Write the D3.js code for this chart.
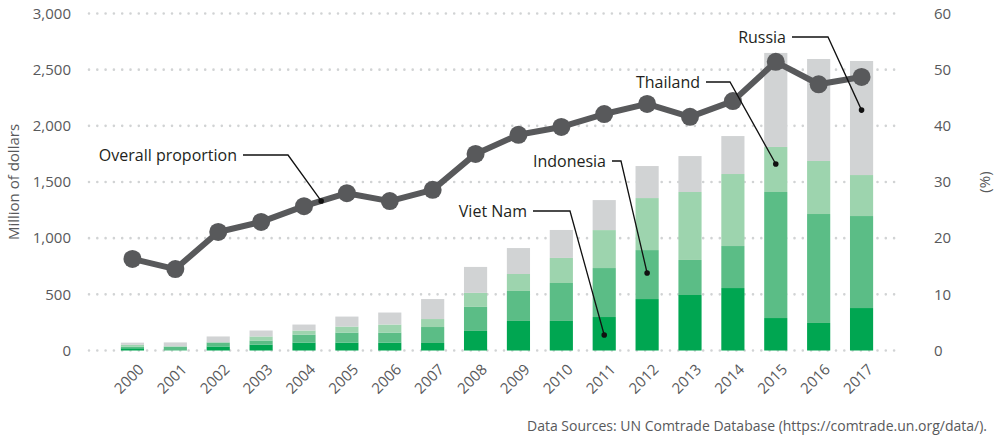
<!DOCTYPE html>
<html>
<head>
<meta charset="utf-8">
<script src="https://cdn.jsdelivr.net/npm/d3@7"></script>
<style>
  body { margin: 0; background: #fff; }
  svg { font-family: "Open Sans", sans-serif; }
</style>
</head>
<body>
<script>
var years = ["2000","2001","2002","2003","2004","2005","2006","2007","2008","2009",
             "2010","2011","2012","2013","2014","2015","2016","2017"];

// million of dollars, stacked bottom to top
var vietNam   = [20, 2, 36, 53, 71, 71, 71, 67, 174, 263, 263, 298, 458, 494, 556, 289, 245, 378];
var indonesia = [15, 33, 36, 36, 71, 89, 89, 142, 214, 267, 338, 436, 436, 312, 374, 1122, 970, 819];
var thailand  = [15, 2, 0, 36, 36, 53, 71, 71, 125, 151, 223, 338, 463, 605, 641, 401, 472, 365];
var russia    = [20, 35, 53, 53, 53, 89, 107, 178, 231, 231, 249, 267, 285, 320, 338, 837, 908, 1015];

// overall proportion (%)
var proportion = [16.3, 14.5, 21.1, 22.9, 25.7, 28.0, 26.6, 28.6, 35.0, 38.4,
                  39.8, 42.1, 43.9, 41.6, 44.4, 51.4, 47.4, 48.7];

var leftTicks = [0, 500, 1000, 1500, 2000, 2500, 3000];
var rightTicks = [0, 10, 20, 30, 40, 50, 60];

var seriesKeys = ["Viet Nam", "Indonesia", "Thailand", "Russia"];
var seriesColors = ["#00a651", "#5bbd86", "#9dd4ae", "#d1d3d4"];

var width = 1000, height = 437;
var textColor = "#58595b";

var svg = d3.select("body").append("svg")
    .attr("width", width)
    .attr("height", height);

var y = d3.scaleLinear().domain([0, 3000]).range([350.5, 13.5]);
var y2 = d3.scaleLinear().domain([0, 60]).range([350.5, 13.5]);
var x = d3.scaleBand().domain(years).range([111, 883])
    .paddingInner(0.46).paddingOuter(0.23);
var bw = x.bandwidth();
function cx(yr) { return x(yr) + bw / 2; }

// dotted grid
svg.append("g").selectAll("line")
    .data(leftTicks)
    .enter().append("line")
    .attr("x1", 89).attr("x2", 897)
    .attr("y1", function (d) { return y(d); })
    .attr("y2", function (d) { return y(d); })
    .attr("stroke", "#d1d3d4")
    .attr("stroke-width", 2.6)
    .attr("stroke-linecap", "round")
    .attr("stroke-dasharray", "0,8.3");

// left axis
var leftAxis = svg.append("g")
    .attr("transform", "translate(71,0)")
    .call(d3.axisLeft(y).tickValues(leftTicks).tickSize(0).tickPadding(0)
        .tickFormat(d3.format(",")));
leftAxis.select(".domain").remove();
leftAxis.selectAll("text")
    .attr("fill", textColor)
    .attr("font-size", "15px")
    .attr("font-family", "Open Sans");

// right axis
var rightAxis = svg.append("g")
    .attr("transform", "translate(934,0)")
    .call(d3.axisRight(y2).tickValues(rightTicks).tickSize(0).tickPadding(0));
rightAxis.select(".domain").remove();
rightAxis.selectAll("text")
    .attr("fill", textColor)
    .attr("font-size", "15px")
    .attr("font-family", "Open Sans");

svg.append("text")
    .attr("transform", "translate(19,182) rotate(-90)")
    .attr("text-anchor", "middle")
    .attr("fill", textColor)
    .attr("font-size", "15px")
    .text("Million of dollars");

svg.append("text")
    .attr("transform", "translate(990,182) rotate(-90)")
    .attr("text-anchor", "middle")
    .attr("fill", textColor)
    .attr("font-size", "15px")
    .text("(%)");

// stacked bars
var table = years.map(function (yr, i) {
    return { year: yr, "Viet Nam": vietNam[i], "Indonesia": indonesia[i],
             "Thailand": thailand[i], "Russia": russia[i] };
});
var stacked = d3.stack().keys(seriesKeys)(table);

svg.append("g").selectAll("g")
    .data(stacked)
    .enter().append("g")
    .attr("fill", function (d, i) { return seriesColors[i]; })
    .selectAll("rect")
    .data(function (d) { return d; })
    .enter().append("rect")
    .attr("x", function (d) { return x(d.data.year); })
    .attr("y", function (d) { return y(d[1]); })
    .attr("width", bw)
    .attr("height", function (d) { return y(d[0]) - y(d[1]); });

// x axis labels
svg.append("g").selectAll("text")
    .data(years)
    .enter().append("text")
    .attr("transform", function (d) {
        return "translate(" + (cx(d) + 5) + ",363) rotate(-45)";
    })
    .attr("text-anchor", "end")
    .attr("dy", "0.7em")
    .attr("fill", textColor)
    .attr("font-size", "15px")
    .text(function (d) { return d; });

// proportion line
var line = d3.line()
    .x(function (d, i) { return cx(years[i]); })
    .y(function (d) { return y2(d); });

svg.append("path")
    .datum(proportion)
    .attr("d", line)
    .attr("fill", "none")
    .attr("stroke", "#58595b")
    .attr("stroke-width", 6)
    .attr("stroke-linejoin", "round");

svg.append("g").selectAll("circle")
    .data(proportion)
    .enter().append("circle")
    .attr("cx", function (d, i) { return cx(years[i]); })
    .attr("cy", function (d) { return y2(d); })
    .attr("r", 9)
    .attr("fill", "#58595b");

// annotations
var t = 0.4;
var overallX = cx("2004") + t * (cx("2005") - cx("2004"));
var overallY = y2(proportion[4] + t * (proportion[5] - proportion[4]));

var notes = [
    { text: "Overall proportion", tx: 237, ty: 155, ex: 288, px: overallX, py: overallY },
    { text: "Viet Nam", tx: 527, ty: 211, ex: 570, px: cx("2011"), py: y(138) },
    { text: "Indonesia", tx: 606, ty: 161, ex: 621, px: cx("2012"), py: y(690) },
    { text: "Thailand", tx: 700, ty: 82, ex: 730, px: cx("2015"), py: y(1660) },
    { text: "Russia", tx: 786, ty: 37, ex: 828, px: cx("2017"), py: y(2140) }
];

var ann = svg.append("g").selectAll("g")
    .data(notes)
    .enter().append("g");

ann.append("text")
    .attr("x", function (d) { return d.tx; })
    .attr("y", function (d) { return d.ty; })
    .attr("dy", "0.35em")
    .attr("text-anchor", "end")
    .attr("fill", "#231f20")
    .attr("font-size", "16px")
    .text(function (d) { return d.text; });

ann.append("polyline")
    .attr("points", function (d) {
        return (d.tx + 6) + "," + d.ty + " " + d.ex + "," + d.ty + " " + d.px + "," + d.py;
    })
    .attr("fill", "none")
    .attr("stroke", "#111")
    .attr("stroke-width", 1.3);

ann.append("circle")
    .attr("cx", function (d) { return d.px; })
    .attr("cy", function (d) { return d.py; })
    .attr("r", 2.8)
    .attr("fill", "#111");

// source
svg.append("text")
    .attr("x", 987)
    .attr("y", 431)
    .attr("text-anchor", "end")
    .attr("fill", textColor)
    .attr("font-size", "14px")
    .text("Data Sources: UN Comtrade Database (https://comtrade.un.org/data/).");
</script>
</body>
</html>
